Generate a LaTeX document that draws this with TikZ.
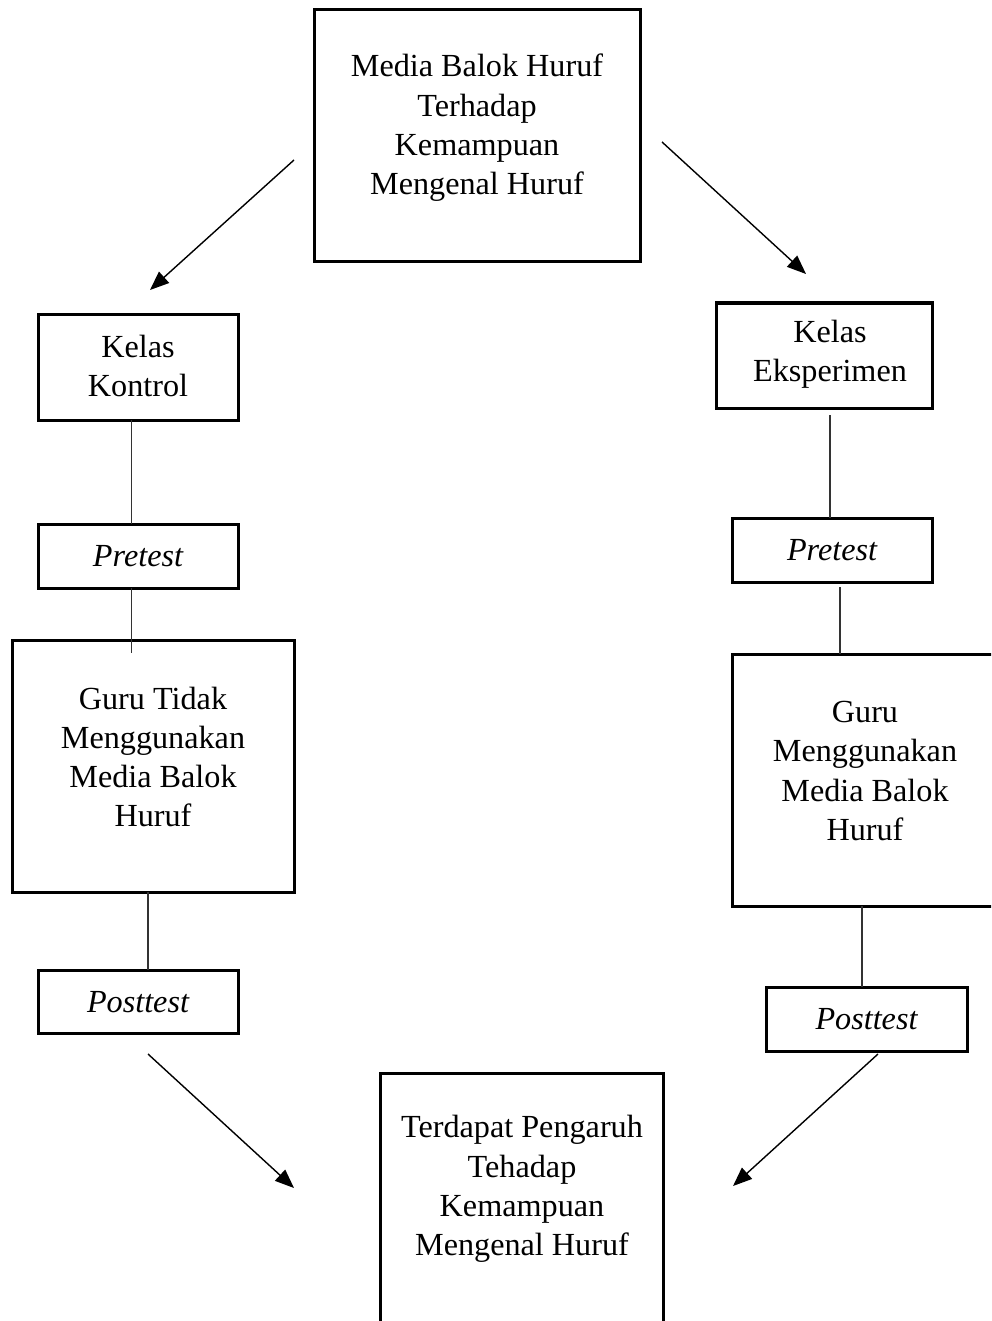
\documentclass[tikz,border=0pt]{standalone}
\usepackage{fontspec}
\setmainfont{Liberation Serif}
\usetikzlibrary{arrows.meta,calc}
\begin{document}
\begin{tikzpicture}[x=1pt,y=-1pt,
  box/.style={draw, line width=3pt, rectangle, inner sep=0pt, outer sep=0pt},
  txt/.style={align=center, inner sep=0pt, font=\fontsize{32.2}{39.3}\selectfont},
  conn/.style={line width=1.4pt, draw=black!80},
  arr/.style={line width=1.4pt, -{Triangle[length=19pt,width=15pt]}}]
\useasboundingbox (0,0) rectangle (991,1321);
\clip (0,0) rectangle (991,1321);
\fill[white] (0,0) rectangle (991,1321);
% boxes
\node[box, minimum width=326pt, minimum height=252pt] (top) at (477,136) {};
\node[txt] (topt) at (477,128) {Media Balok Huruf\\Terhadap\\Kemampuan\\Mengenal Huruf};
\node[box, minimum width=200pt, minimum height=106pt] (kk) at (138,367) {};
\node[txt] (kkt) at (138,366) {Kelas\\Kontrol};
\node[box, minimum width=216pt, minimum height=105pt] (ke) at (824,355.5) {};
\node[txt] (ket) at (830,354) {Kelas\\Eksperimen};
\node[box, minimum width=200pt, minimum height=64pt] (pl) at (138,556) {};
\node[txt] (plt) at (138,556) {\itshape Pretest};
\node[box, minimum width=200pt, minimum height=64pt] (pr) at (832,550) {};
\node[txt] (prt) at (832,550) {\itshape Pretest};
\node[box, minimum width=282pt, minimum height=252pt] (gl) at (153,766) {};
\node[txt] (glt) at (153,757) {Guru Tidak\\Menggunakan\\Media Balok\\Huruf};
\node[box, minimum width=266pt, minimum height=252pt] (gr) at (865,780) {};
\node[txt] (grt) at (865,771) {Guru\\Menggunakan\\Media Balok\\Huruf};
\node[box, minimum width=200pt, minimum height=63pt] (ql) at (138,1001.5) {};
\node[txt] (qlt) at (138,1002) {\itshape Posttest};
\node[box, minimum width=201pt, minimum height=64pt] (qr) at (866.5,1019) {};
\node[txt] (qrt) at (866.5,1019) {\itshape Posttest};
\node[box, minimum width=283pt, minimum height=252pt] (bot) at (521.5,1199) {};
\node[txt] (bott) at (522,1189) {Terdapat Pengaruh\\Tehadap\\Kemampuan\\Mengenal Huruf};
% connectors
\draw[conn] ($(kk.south)+(-6.3,0)$) -- ($(pl.north)+(-6.3,0)$);
\draw[conn] ($(pl.south)+(-6.3,0)$) -- ($(gl.north)+(-21.3,13)$);
\draw[conn] ($(gl.south)+(-5,0)$) -- ($(ql.north)+(10,0)$);
\draw[conn] ($(ke.south)+(6,7)$) -- ($(pr.north)+(-2,0)$);
\draw[conn] ($(pr.south)+(8,5)$) -- ($(gr.north)+(-25,0)$);
\draw[conn] ($(gr.south)+(-3,0)$) -- ($(qr.north)+(-4.5,0)$);
% arrows
\coordinate (a1s) at (294,160); \coordinate (a1e) at (150,290);
\coordinate (a2s) at (662,142); \coordinate (a2e) at (806,274);
\coordinate (a3s) at (148,1054); \coordinate (a3e) at (294,1188);
\coordinate (a4s) at (878,1054); \coordinate (a4e) at (733,1186);
\draw[arr] (a1s) -- (a1e);
\draw[arr] (a2s) -- (a2e);
\draw[arr] (a3s) -- (a3e);
\draw[arr] (a4s) -- (a4e);
\end{tikzpicture}
\end{document}
